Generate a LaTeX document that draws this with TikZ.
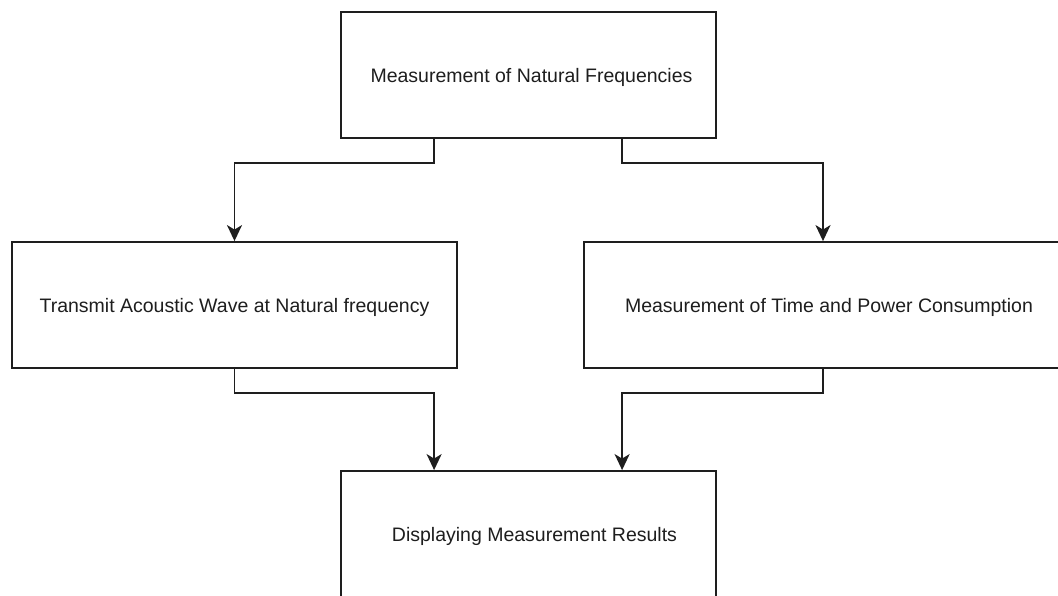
\documentclass[tikz,border=0pt]{standalone}
\usepackage{fontspec}
\setmainfont{Liberation Sans}
\usetikzlibrary{arrows.meta,calc}
\definecolor{ink}{HTML}{1e1e1e}
\tikzset{
  flowbox/.style={draw=ink, line width=1.8pt, fill=white, rectangle,
    minimum height=126pt, inner sep=0pt, text=ink,
    text height=16pt, text depth=0pt,
    font=\fontsize{19.5}{24}\selectfont},
  flowarrow/.style={draw=ink, line width=1.8pt,
    -{Stealth[length=16pt,width=15pt,inset=4.5pt]}}
}
\begin{document}
\begin{tikzpicture}[x=1pt,y=1pt]
  \useasboundingbox[fill=white] (0,0) rectangle (1058,596);
  % process boxes
  \node[flowbox, minimum width=375pt] (top) at (528.5,521)
    {\hspace*{6pt}Measurement of Natural Frequencies};
  \node[flowbox, minimum width=445pt] (left) at (234.5,291)
    {Transmit Acoustic Wave at Natural frequency};
  \node[flowbox, minimum width=478pt] (right) at (823,291)
    {\hspace*{12pt}Measurement of Time and Power Consumption};
  \node[flowbox, minimum width=375pt] (bottom) at (528.5,62)
    {\hspace*{12pt}Displaying Measurement Results};
  % elbow connectors
  \draw[flowarrow] ([xshift=94pt]top.south west) -- ++(0,-24) -| (left.north);
  \draw[flowarrow] ([xshift=282pt]top.south west) -- ++(0,-24) -| (right.north);
  \draw[flowarrow] (left.south) -- ++(0,-24) -| ([xshift=94pt]bottom.north west);
  \draw[flowarrow] (right.south) -- ++(0,-24) -| ([xshift=282pt]bottom.north west);
\end{tikzpicture}
\end{document}
